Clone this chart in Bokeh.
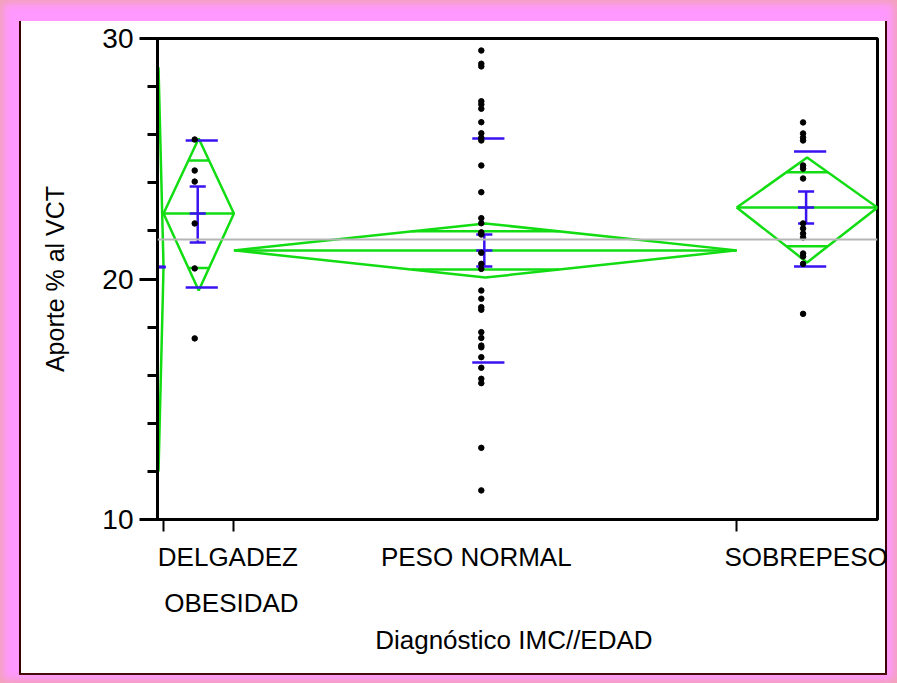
import math
from bokeh.plotting import figure
from bokeh.models import Range1d, FixedTicker, LinearAxis, Span
from bokeh.embed import file_html
from bokeh.resources import INLINE

# ---------------- data ----------------
groups = ["DELGADEZ", "OBESIDAD", "PESO NORMAL", "SOBREPESO"]
counts = [1, 7, 50, 14]
means = [20.5, 22.72, 21.19, 22.97]
ci_low = [12.0, 19.52, 20.06, 20.69]
ci_high = [28.8, 25.84, 22.31, 25.05]
se_low = [20.5, 21.52, 20.52, 22.31]
se_high = [20.5, 23.85, 21.85, 23.64]
sd_low = [None, 19.65, 16.53, 20.52]
sd_high = [None, 25.76, 25.84, 25.30]
grand_mean = 21.64

delgadez_vals = [20.64]
obesidad_vals = [25.80, 24.51, 24.05, 22.31, 20.44, 17.53]
peso_normal_vals = [29.50, 28.95, 28.84, 27.39, 27.26, 27.08, 26.52, 26.06, 25.87, 25.76,
                    24.72, 23.61, 22.53, 22.32, 21.94, 21.85, 21.09, 20.63, 20.42, 19.52,
                    19.18, 18.83, 18.72, 17.79, 17.55, 17.23, 17.16, 16.75, 16.31, 15.85,
                    15.67, 12.98, 11.21]
sobrepeso_vals = [26.51, 26.05, 25.88, 25.76, 24.72, 24.59, 24.18, 22.31, 22.10, 21.89,
                  21.73, 21.06, 20.94, 20.63, 18.55]
group_vals = [delgadez_vals, obesidad_vals, peso_normal_vals, sobrepeso_vals]

y_major = [10, 20, 30]
y_minor = [12, 14, 16, 18, 22, 24, 26, 28]
x_labels_row1 = ["DELGADEZ", "PESO NORMAL", "SOBREPESO"]
x_labels_row2 = ["OBESIDAD"]
x_title = "Diagnóstico  IMC//EDAD"
y_title = "Aporte % al VCT"

# ---------------- layout (group widths proportional to n) ----------------
edges = [0]
for n in counts:
    edges.append(edges[-1] + n)
centers = [(edges[i] + edges[i + 1]) / 2 for i in range(len(counts))]
halfw = [n / 2 for n in counts]
row1_pos = [7.4, 32.1, 64.9]
row2_pos = [7.75]

GREEN = "#12dc12"
BLUE = "#3a12f2"
FONT = "Liberation Sans"

p = figure(width=897, height=683, x_range=Range1d(0.4, edges[-1]),
           y_range=Range1d(10, 30), output_backend="svg", toolbar_location=None,
           min_border_left=157, min_border_right=20, min_border_top=38, min_border_bottom=164)
p.border_fill_alpha = 0
p.background_fill_color = "white"
p.outline_line_color = "black"
p.outline_line_width = 3
p.xgrid.visible = False
p.ygrid.visible = False
p.styles = {
    "background-color": "white",
    "box-shadow": ("inset 0 0 9px 3px rgba(238,165,165,0.85), "
                   "inset 19px 21px 0 0 #ff99ff, "
                   "inset -10px -8px 0 0 #ff99ff, "
                   "inset 21px 0 0 0 #3a0000, "
                   "inset -12px -10px 0 0 #3a0000"),
}

# grand mean
p.add_layout(Span(location=grand_mean, dimension="width", line_color="#b5b5b5", line_width=2))

r2 = math.sqrt(2)
for i, g in enumerate(groups):
    c, hw, m, lo, hi = centers[i], halfw[i], means[i], ci_low[i], ci_high[i]
    # means diamond
    p.line([c - hw, c, c + hw, c, c - hw], [m, hi, m, lo, m], line_color=GREEN, line_width=2.5)
    p.line([c - hw, c + hw], [m, m], line_color=GREEN, line_width=2.5)
    # overlap marks
    du = (hi - m) / r2
    dl = (m - lo) / r2
    ow = hw * (1 - 1 / r2)
    p.line([c - ow, c + ow], [m + du, m + du], line_color=GREEN, line_width=2.5)
    p.line([c - ow, c + ow], [m - dl, m - dl], line_color=GREEN, line_width=2.5)
    # std dev lines
    if sd_low[i] is not None:
        p.segment(x0=[c + 0.3 - 1.6] * 2, x1=[c + 0.3 + 1.6] * 2, y0=[sd_low[i], sd_high[i]],
                  y1=[sd_low[i], sd_high[i]], line_color=BLUE, line_width=2.5)
    # mean error bars
    ex = c - 0.1
    p.segment(x0=[ex], x1=[ex], y0=[se_low[i]], y1=[se_high[i]], line_color=BLUE, line_width=2.5)
    p.segment(x0=[ex - 0.8] * 3, x1=[ex + 0.8] * 3, y0=[se_low[i], m, se_high[i]],
              y1=[se_low[i], m, se_high[i]], line_color=BLUE, line_width=2.5)
    # points
    vals = group_vals[i]
    p.scatter(x=[c - 0.4] * len(vals), y=vals, size=5.5, color="black")

# y axis
ya = p.yaxis[0]
ya.ticker = FixedTicker(ticks=y_major, minor_ticks=y_minor)
ya.axis_line_width = 3
ya.major_tick_out = 18
ya.major_tick_in = 0
ya.minor_tick_out = 10
ya.minor_tick_in = 0
ya.major_tick_line_width = 3
ya.minor_tick_line_width = 3
ya.major_label_text_font = FONT
ya.major_label_text_font_size = "28px"
ya.major_label_text_color = "black"
ya.major_label_standoff = 6
ya.axis_label = y_title
ya.axis_label_text_font = FONT
ya.axis_label_text_font_size = "25px"
ya.axis_label_text_font_style = "normal"
ya.axis_label_text_color = "black"
ya.axis_label_standoff = 30

# x axis: tick marks at group boundaries (labels not drawn here)
xa = p.xaxis[0]
xa.ticker = FixedTicker(ticks=edges[1:4], minor_ticks=[])
xa.axis_line_width = 3
xa.major_tick_out = 12
xa.major_tick_in = 0
xa.major_tick_line_width = 2
xa.major_label_text_font_size = "2px"
xa.major_label_text_color = None
xa.major_label_standoff = 0

# x axis labels, two rows
xb = LinearAxis(ticker=FixedTicker(ticks=row1_pos, minor_ticks=[]),
                major_label_overrides={pos: lab for pos, lab in zip(row1_pos, x_labels_row1)})
xc = LinearAxis(ticker=FixedTicker(ticks=row2_pos, minor_ticks=[]),
                major_label_overrides={pos: lab for pos, lab in zip(row2_pos, x_labels_row2)})
for ax in (xb, xc):
    ax.axis_line_color = None
    ax.major_tick_line_color = None
    ax.minor_tick_line_color = None
    ax.major_tick_out = 0
    ax.major_tick_in = 0
    ax.major_label_text_font = FONT
    ax.major_label_text_font_size = "26px"
    ax.major_label_text_color = "black"
xb.major_label_standoff = 10
xc.major_label_standoff = 13
xc.axis_label = x_title
xc.axis_label_text_font = FONT
xc.axis_label_text_font_size = "26px"
xc.axis_label_text_font_style = "normal"
xc.axis_label_text_color = "black"
xc.axis_label_standoff = 4
p.add_layout(xb, "below")
p.add_layout(xc, "below")

open("out.html", "w").write(file_html(p, INLINE))
